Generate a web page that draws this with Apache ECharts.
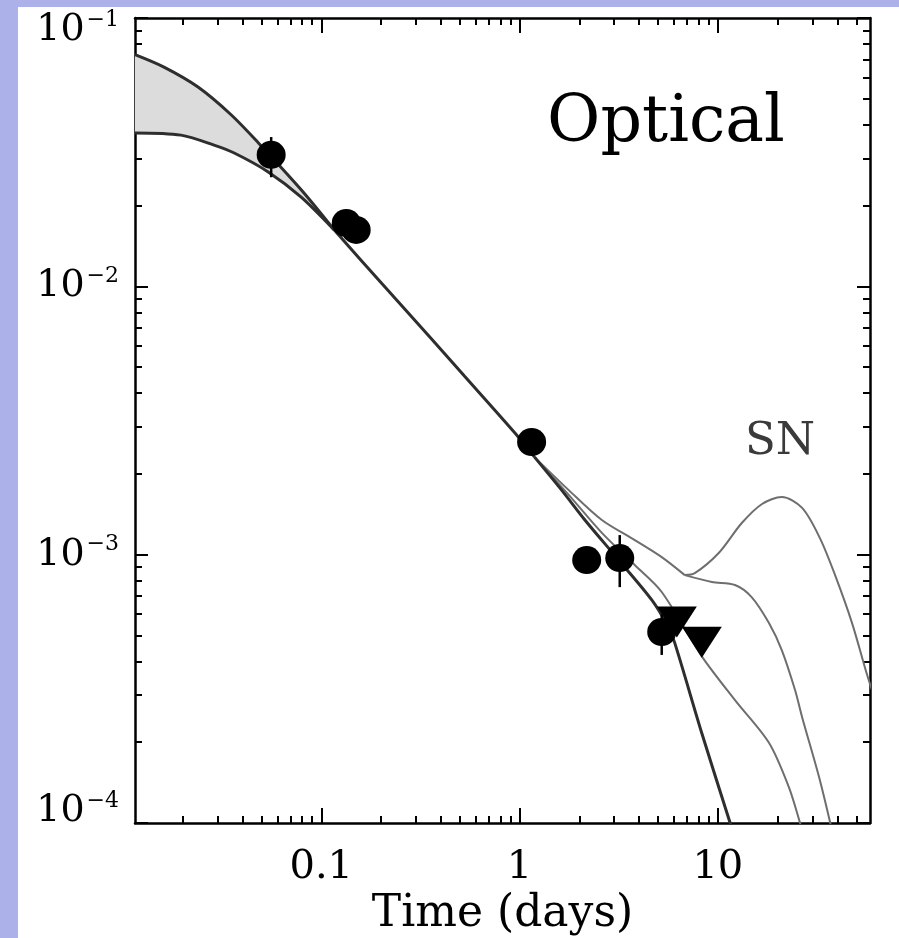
<!DOCTYPE html>
<html><head><meta charset="utf-8">
<script src="https://cdn.jsdelivr.net/npm/echarts@6/dist/echarts.min.js"></script>
<style>
html,body{margin:0;padding:0;background:#fff;}
#wrap{position:relative;width:899px;height:938px;overflow:hidden;background:#fff;}
#stripL{position:absolute;left:0;top:0;width:18px;height:938px;background:#adb1ea;}
#stripT{position:absolute;left:0;top:0;width:899px;height:7px;background:#adb1ea;}
#chart{position:absolute;left:0;top:0;width:899px;height:938px;}
</style></head>
<body><div id="wrap"><div id="stripL"></div><div id="stripT"></div><div id="chart"></div></div>
<script>
// ---- axis ranges & ticks ----
const xMin = 0.0115, xMax = 58.5;
const yMin = 1e-4, yMax = 1e-1;
const xMajorTicks = [0.1, 1, 10];
const xTickLabels = ['0.1', '1', '10'];
const xMinorTicks = [0.02,0.03,0.04,0.05,0.06,0.07,0.08,0.09,0.2,0.3,0.4,0.5,0.6,0.7,0.8,0.9,2,3,4,5,6,7,8,9,20,30,40,50];
const yMajorTicks = [1e-4, 1e-3, 1e-2, 1e-1];
const yMinorTicks = [2e-4,3e-4,4e-4,5e-4,6e-4,7e-4,8e-4,9e-4,2e-3,3e-3,4e-3,5e-3,6e-3,7e-3,8e-3,9e-3,2e-2,3e-2,4e-2,5e-2,6e-2,7e-2,8e-2,9e-2];

// ---- model curves [time (days), flux] ----
const upperEnv = [[0.0115,0.0730],[0.0161,0.0656],[0.0239,0.0553],[0.0351,0.0436],[0.0481,0.0343],[0.0792,0.0229],[0.1164,0.0162]];
const lowerEnv = [[0.0115,0.0373],[0.0196,0.0366],[0.0288,0.0336],[0.0364,0.0314],[0.0540,0.0267],[0.0792,0.0215],[0.1164,0.0162]];
const trunk = [[0.1164,0.0162],[0.201,0.01028],[0.360,0.00637],[0.527,0.00463],[0.988,0.00274],[1.19,0.00231]];
const noSN = [[1.19,0.00231],[1.63,0.00174],[2.13,0.00135],[3.16,0.000955],[4.64,0.000678],[5.6,0.00054],[6.06,0.000469],[8.30,0.000216],[11.5,0.0001007],[12.5,0.000083]];
const snFaint = [[1.19,0.00231],[1.77,0.00167],[2.60,0.001205],[3.81,0.000915],[5.21,0.000726],[8.30,0.000418],[12.2,0.000287],[18.1,0.000199],[22.8,0.000136],[25.9,0.0001007],[27.5,0.0000863]];
const snShared = [[1.19,0.00231],[1.77,0.00174],[2.60,0.001346],[3.81,0.001133],[5.21,0.000979],[6.81,0.000839]];
const snMid = [[6.81,0.000839],[9.33,0.000791],[12.2,0.000771],[14.8,0.000695],[18.1,0.000556],[21.0,0.000441],[24.5,0.000313],[26.6,0.000248],[32.4,0.000148],[36.8,0.0001007],[38.5,0.0000863]];
const snPeak = [[6.81,0.000839],[7.65,0.000853],[10.1,0.001014],[13.2,0.001312],[16.7,0.001545],[21.0,0.001641],[26.6,0.001494],[32.7,0.001153],[39.0,0.000839],[47.5,0.000556],[56.6,0.000356],[63.5,0.000275]];

// ---- observations ----
const detT = [0.0559, 0.1337, 0.150, 1.15, 2.18, 3.20, 5.21];
const detF = [0.0309, 0.01722, 0.01622, 0.00263, 0.000955, 0.000971, 0.000515];
const limT = [6.21, 8.30];
const limF = [0.000561, 0.000472];
const errT = [0.0559, 3.20, 5.21];
const errLo = [0.0255, 0.000757, 0.000423];
const errHi = [0.0360, 0.001183, 0.00060];

const FONT = 'DejaVu Serif';
const DARK = '#2e2e2e', GRAY = '#6e6e6e';

const chart = echarts.init(document.getElementById('chart'), null, {renderer: 'canvas'});

function xAxisDef(pos, ticks, len, withLine, withLabel) {
  return {
    type: 'log', logBase: 10, min: xMin, max: xMax, position: pos,
    axisLine: {show: withLine, onZero: false, lineStyle: {color: '#000', width: 2.5}},
    axisTick: {show: true, inside: true, length: len, customValues: ticks, lineStyle: {color: '#000', width: 2}},
    axisLabel: withLabel ? {
      show: true, customValues: xMajorTicks, margin: 25, color: '#000', fontFamily: FONT, fontSize: 40,
      formatter: v => xTickLabels[xMajorTicks.findIndex(m => Math.abs(Math.log10(m) - Math.log10(v)) < 1e-6)]
    } : {show: false},
    splitLine: {show: false}, minorTick: {show: false}, minorSplitLine: {show: false},
    name: withLabel ? 'Time (days)' : '', nameLocation: 'middle', nameGap: 64,
    nameTextStyle: {fontFamily: FONT, fontSize: 44, color: '#000'}
  };
}
function yAxisDef(pos, ticks, len, withLine, withLabel) {
  return {
    type: 'log', logBase: 10, min: yMin, max: yMax, position: pos,
    axisLine: {show: withLine, onZero: false, lineStyle: {color: '#000', width: 2.5}},
    axisTick: {show: true, inside: true, length: len, customValues: ticks, lineStyle: {color: '#000', width: 2}},
    axisLabel: withLabel ? {
      show: true, customValues: yMajorTicks, margin: 16, color: '#000',
      formatter: v => {
        const e = Math.round(Math.log10(v));
        const main = '{n|10}{s|\u2212' + (-e) + '}';
        if (e === -1) return '{e| }\n' + main;
        if (e === -4) return main + '\n{e| }';
        return main;
      },
      rich: {
        n: {fontFamily: FONT, fontSize: 38, lineHeight: 38, color: '#000', verticalAlign: 'bottom'},
        s: {fontFamily: FONT, fontSize: 22, lineHeight: 22, color: '#000', verticalAlign: 'bottom', padding: [0, 0, 18, 2]},
        e: {fontFamily: FONT, fontSize: 10, lineHeight: 24, color: '#000'}
      }
    } : {show: false},
    splitLine: {show: false}, minorTick: {show: false}, minorSplitLine: {show: false}
  };
}

function lineSeries(name, data, color, width) {
  return {
    name, type: 'line', data, xAxisIndex: 0, yAxisIndex: 0,
    showSymbol: false, symbol: 'none', smooth: 0.3, clip: true,
    lineStyle: {color, width}, silent: true, z: 3
  };
}

const option = {
  animation: false,
  backgroundColor: 'transparent',
  grid: {left: 135, top: 18, right: 29, bottom: 115, containLabel: false, outerBoundsMode: 'none'},
  xAxis: [
    xAxisDef('bottom', xMajorTicks, 15, true, true),
    xAxisDef('bottom', xMinorTicks, 7, false, false),
    xAxisDef('top', xMajorTicks, 15, true, false),
    xAxisDef('top', xMinorTicks, 7, false, false)
  ],
  yAxis: [
    yAxisDef('left', yMajorTicks, 13, true, true),
    yAxisDef('left', yMinorTicks, 7, false, false),
    yAxisDef('right', yMajorTicks, 13, true, false),
    yAxisDef('right', yMinorTicks, 7, false, false)
  ],
  graphic: [
    {type: 'text', x: 666, y: 124, z: 10, style: {text: 'Optical', fontFamily: FONT, fontSize: 65, fill: '#000', align: 'center', verticalAlign: 'middle', textAlign: 'center', textVerticalAlign: 'middle'}},
    {type: 'text', x: 780, y: 442, z: 10, style: {text: 'SN', fontFamily: FONT, fontSize: 45, fill: '#3a3a3a', align: 'center', verticalAlign: 'middle', textAlign: 'center', textVerticalAlign: 'middle'}}
  ],
  series: [
    {
      name: 'band', type: 'custom', xAxisIndex: 0, yAxisIndex: 0, silent: true, z: 1, clip: true,
      data: [[upperEnv[0][0], upperEnv[0][1]]],
      renderItem: (params, api) => {
        const pts = upperEnv.map(p => api.coord(p)).concat(lowerEnv.slice().reverse().map(p => api.coord(p)));
        return {type: 'polygon', shape: {points: pts}, style: {fill: '#dcdcdc', stroke: null}};
      }
    },
    lineSeries('SN bright', snPeak, GRAY, 2),
    lineSeries('SN mid', snMid, GRAY, 2),
    lineSeries('SN shared', snShared, GRAY, 2),
    lineSeries('SN faint', snFaint, GRAY, 2),
    lineSeries('upper', upperEnv, DARK, 3),
    lineSeries('lower', lowerEnv, DARK, 3),
    lineSeries('trunk', trunk, DARK, 3),
    lineSeries('no SN', noSN, DARK, 3),
    {
      name: 'errors', type: 'custom', xAxisIndex: 0, yAxisIndex: 0, silent: true, z: 4,
      data: errT.map((t, i) => [t, errLo[i], errHi[i]]),
      encode: {x: 0, y: [1, 2]},
      renderItem: (params, api) => {
        const a = api.coord([api.value(0), api.value(1)]);
        const b = api.coord([api.value(0), api.value(2)]);
        return {type: 'line', shape: {x1: a[0], y1: a[1], x2: b[0], y2: b[1]}, style: {stroke: '#000', lineWidth: 2.5}};
      }
    },
    {
      name: 'detections', type: 'scatter', xAxisIndex: 0, yAxisIndex: 0, silent: true, z: 5,
      data: detT.map((t, i) => [t, detF[i]]),
      symbol: 'circle', symbolSize: [29, 28], itemStyle: {color: '#000', opacity: 1}
    },
    {
      name: 'upper limits', type: 'scatter', xAxisIndex: 0, yAxisIndex: 0, silent: true, z: 5,
      data: limT.map((t, i) => [t, limF[i]]),
      symbol: 'triangle', symbolSize: [40, 31], symbolRotate: 180, itemStyle: {color: '#000', opacity: 1}
    }
  ]
};
chart.setOption(option);
</script>
</body></html>
